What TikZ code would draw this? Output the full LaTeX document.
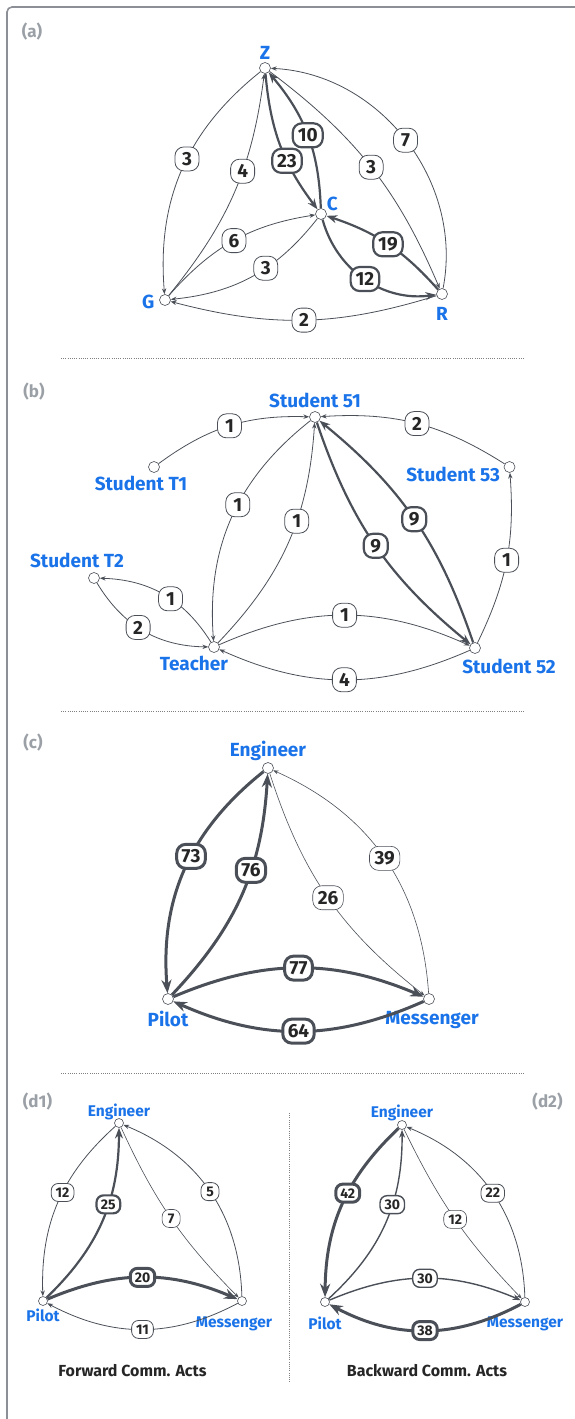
\documentclass[tikz,border=0pt]{standalone}
\usepackage{fontspec}
\setmainfont{Fira Sans}
\usetikzlibrary{arrows.meta,positioning}
\definecolor{nodeblue}{HTML}{1A73E8}
\definecolor{edgegray}{HTML}{4B5058}
\definecolor{tagtext}{HTML}{262626}
\definecolor{titlegray}{HTML}{9AA0A6}
\definecolor{framegray}{HTML}{8C9096}
\tikzset{dot/.style={circle, draw=edgegray, fill=white, line width=0.6pt, minimum size=11pt, inner sep=0pt},
  who/.style={text=nodeblue, inner sep=0.5pt, font=\bfseries\fontsize{19}{19}\selectfont},
  tag/.style={draw=edgegray, fill=white, text=tagtext, rounded corners=9pt, minimum height=24pt, minimum width=24pt, inner xsep=5pt, inner ysep=0pt, font=\bfseries\fontsize{19}{19}\selectfont},
  panel/.style={text=titlegray, inner sep=0pt, font=\bfseries\fontsize{17}{17}\selectfont},
  caption/.style={text=tagtext, inner sep=0pt, font=\bfseries\fontsize{16}{16}\selectfont},
  sep/.style={draw=gray, line width=0.9pt, dash pattern=on 0.9pt off 1.3pt},
  faint/.style={draw=edgegray, line width=0.6pt},
  firm/.style={draw=edgegray, line width=0.8pt},
  stout/.style={draw=edgegray, line width=1.4pt},
  strong/.style={draw=edgegray, line width=2.2pt},
  heavy/.style={draw=edgegray, line width=3pt},
  >={Stealth[length=3pt 3.5]}}
\begin{document}
\begin{tikzpicture}[x=1pt, y=-1pt]
    \useasboundingbox (0,0) rectangle (574,1419);
    \draw[framegray, line width=1.6pt, rounded corners=5pt] (576,7) -- (7,7) -- (7,1421);
    \draw[sep] (61,358) -- (525,358);
    \draw[sep] (61,711) -- (525,711);
    \draw[sep] (61,1073) -- (525,1073);
    \draw[sep] (289,1113) -- (289,1383);

    % (a)
    \node[panel] (ta) at (32,32) {(a)};
    \node[dot] (Z) at (265,68) {};
    \node[dot] (C) at (321,214) {};
    \node[dot] (G) at (165,300) {};
    \node[dot] (R) at (442,294) {};
    \node[who, above=2pt of Z] (Zl) {Z};
    \node[who, above right=-2pt and 1pt of C] (Cl) {C};
    \node[who, left=4pt of G, yshift=-2pt] (Gl) {G};
    \node[who, below=7pt of R] (Rl) {R};
    \path[->] (Z) edge[firm, bend right=28] node[tag, pos=.45] {3} (G);
    \path[->] (G) edge[firm, bend right=16] node[tag, pos=.6] {4} (Z);
    \path[->] (Z) edge[strong, bend right=16] node[tag, pos=.62] {23} (C);
    \path[->] (C) edge[strong, bend right=19] node[tag] {10} (Z);
    \path[->] (Z) edge[firm, bend left=15] node[tag] {3} (R);
    \path[->] (R) edge[firm, bend right=49] node[tag] {7} (Z);
    \path[->] (G) edge[firm, bend left=20] node[tag] {6} (C);
    \path[->] (C) edge[firm, bend left=23] node[tag, pos=.41] {3} (G);
    \path[->] (R) edge[strong, bend right=15] node[tag] {19} (C);
    \path[->] (C) edge[strong, bend right=41] node[tag] {12} (R);
    \path[->] (R) edge[firm, bend left=16] node[tag] {2} (G);

    % (b)
    \node[panel] (tb) at (34,392) {(b)};
    \node[dot] (S51) at (315,417) {};
    \node[dot] (T1) at (154,467) {};
    \node[dot] (S53) at (509.5,467) {};
    \node[dot] (T2) at (94,578) {};
    \node[dot] (Tc) at (214,647) {};
    \node[dot] (S52) at (475,648) {};
    \node[who, above=3pt of S51] (S51l) {Student 51};
    \node[who, below=3pt of T1, xshift=-13pt] (T1l) {Student T1};
    \node[who, left=3pt of S53, yshift=-7pt] (S53l) {Student 53};
    \node[who, above=4pt of T2, xshift=-17pt] (T2l) {Student T2};
    \node[who, below=3pt of Tc, xshift=-20pt] (Tcl) {Teacher};
    \node[who, below=5pt of S52, xshift=34pt] (S52l) {Student 52};
    \path[->] (T1) edge[firm, bend left=19] node[tag] {1} (S51);
    \path[->] (S53) edge[firm, bend right=18] node[tag] {2} (S51);
    \path[->] (S51) edge[firm, bend right=28] node[tag, pos=.44] {1} (Tc);
    \path[->] (Tc) edge[firm, bend right=20] node[tag, pos=.6] {1} (S51);
    \path[->] (S51) edge[strong, bend right=16] node[tag] {9} (S52);
    \path[->] (S52) edge[strong, bend right=16] node[tag] {9} (S51);
    \path[->] (S52) edge[firm, bend right=15] node[tag] {1} (S53);
    \path[->] (Tc) edge[firm, bend right=28] node[tag, pos=.44] {1} (T2);
    \path[->] (T2) edge[firm, bend right=29] node[tag, pos=.45] {2} (Tc);
    \path[->] (Tc) edge[firm, bend left=24] node[tag] {1} (S52);
    \path[->] (S52) edge[firm, bend left=24] node[tag] {4} (Tc);

    % (c)
    \node[panel] (tc) at (33,743) {(c)};
    \node[dot] (E) at (268,768) {};
    \node[dot] (P) at (168,999) {};
    \node[dot] (M) at (429,999) {};
    \node[who, above=1pt of E] (El) {Engineer};
    \node[who, below=6pt of P] (Pl) {Pilot};
    \node[who, below=6pt of M, xshift=3pt] (Ml) {Messenger};
    \path[->] (E) edge[heavy, bend right=28] node[tag, pos=.44] {73} (P);
    \path[->] (P) edge[heavy, bend right=20] node[tag, pos=.61] {76} (E);
    \path[->] (E) edge[faint, bend right=17] node[tag] {26} (M);
    \path[->] (M) edge[faint, bend right=31] node[tag] {39} (E);
    \path[->] (P) edge[heavy, bend left=23] node[tag] {77} (M);
    \path[->] (M) edge[heavy, bend left=24] node[tag] {64} (P);

    % (d1) and (d2)
    \begin{scope}[dot/.append style={minimum size=9pt},
        who/.append style={font=\bfseries\fontsize{15.5}{15.5}\selectfont},
        tag/.append style={rounded corners=7pt, minimum height=18pt, minimum width=18pt, inner xsep=4.5pt, font=\bfseries\fontsize{14}{14}\selectfont}]
    \node[panel] (td1) at (37.5,1101.5) {(d1)};
    \node[dot] (E1) at (119,1123) {};
    \node[dot] (P1) at (43,1301) {};
    \node[dot] (M1) at (242,1301) {};
    \node[who, above=-2pt of E1] (E1l) {Engineer};
    \node[who, below=2pt of P1] (P1l) {Pilot};
    \node[who, below=10pt of M1, xshift=-8pt] (M1l) {Messenger};
    \path[->] (E1) edge[firm, bend right=25] node[tag, pos=.44] {12} (P1);
    \path[->] (P1) edge[strong, bend right=23] node[tag, pos=.6] {25} (E1);
    \path[->] (E1) edge[faint, bend right=10] node[tag] {7} (M1);
    \path[->] (M1) edge[firm, bend right=33] node[tag] {5} (E1);
    \path[->] (P1) edge[heavy, bend left=23] node[tag] {20} (M1);
    \path[->] (M1) edge[firm, bend left=28] node[tag] {11} (P1);
    \node[caption] (cap1) at (132.5,1371) {Forward Comm. Acts};

    \node[panel] (td2) at (547.5,1101.5) {(d2)};
    \node[dot] (E2) at (402,1125) {};
    \node[dot] (P2) at (325,1302) {};
    \node[dot] (M2) at (525,1302) {};
    \node[who, above=-1pt of E2] (E2l) {Engineer};
    \node[who, below=9pt of P2] (P2l) {Pilot};
    \node[who, below=9pt of M2] (M2l) {Messenger};
    \path[->] (E2) edge[heavy, bend right=23] node[tag, pos=.43] {42} (P2);
    \path[->] (P2) edge[stout, bend right=24] node[tag, pos=.61] {30} (E2);
    \path[->] (E2) edge[faint, bend right=9] node[tag] {12} (M2);
    \path[->] (M2) edge[firm, bend right=33] node[tag] {22} (E2);
    \path[->] (P2) edge[stout, bend left=23] node[tag] {30} (M2);
    \path[->] (M2) edge[heavy, bend left=28] node[tag] {38} (P2);
    \node[caption] (cap2) at (427,1371) {Backward Comm. Acts};
    \end{scope}
\end{tikzpicture}
\end{document}
